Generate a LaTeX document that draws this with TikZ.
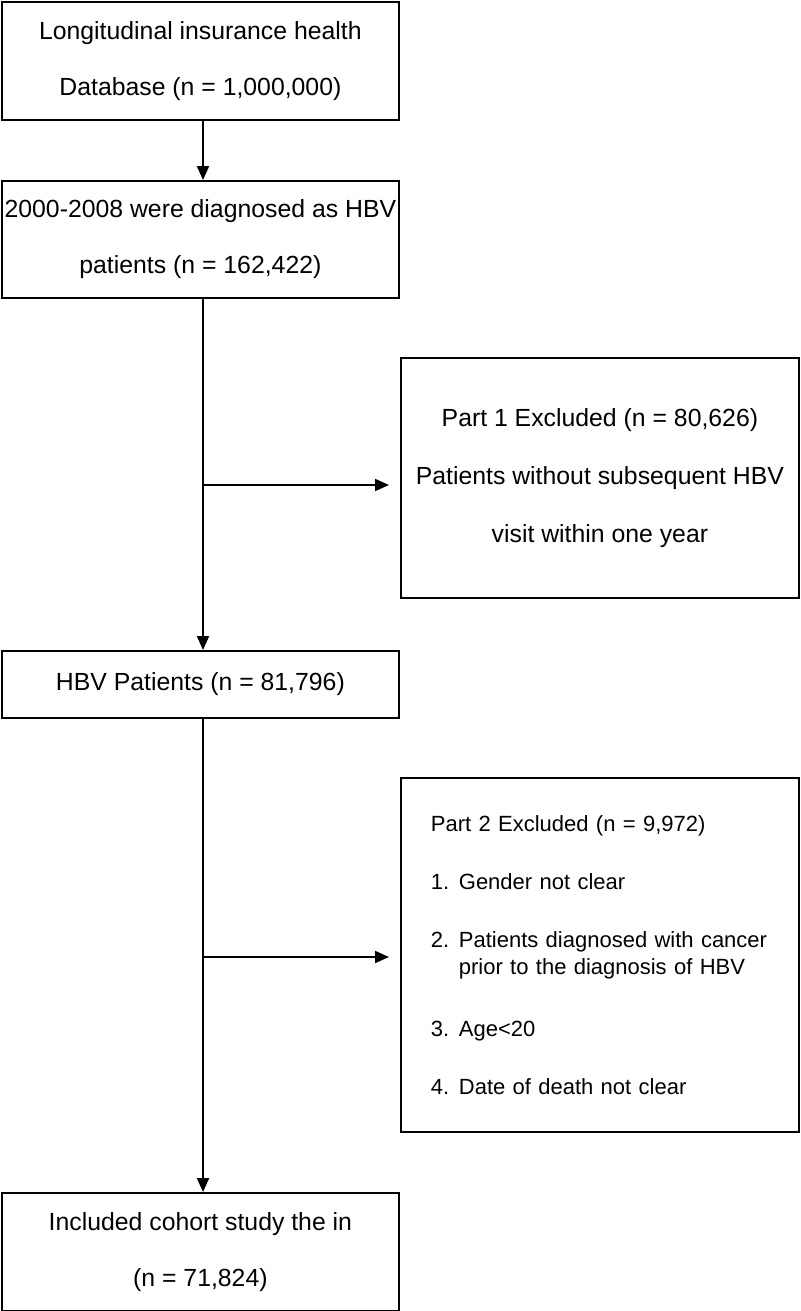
\documentclass[tikz,border=0pt]{standalone}
\usepackage{fontspec}
\setmainfont{Liberation Sans}
\usetikzlibrary{arrows.meta, positioning}
\tikzset{
  box_font/.style = {font=\fontsize{24.8}{30}\selectfont},
  list_font/.style = {font=\fontsize{22}{27}\selectfont},
  box/.style = {box_font, draw, line width=1.8pt, anchor=north west, align=center, inner sep=0},
  side_box/.style = {box, list_font, align=left, text width=338pt},
  flow/.style = {line width=2pt, -{Triangle[length=14pt, width=12pt]}}
}
\begin{document}
\begin{tikzpicture}[x=1pt, y=-1pt]
  \useasboundingbox (0,0) rectangle (800,1311);

  % Main column
  \node[box, minimum width=397pt, minimum height=118pt] at (1,1) (db) {
    Longitudinal insurance health \\[26pt] Database (n = 1,000,000)};
  \node[box, minimum width=397pt, minimum height=117pt] at (1,180) (hbv) {
    2000-2008 were diagnosed as HBV \\[26pt] patients (n = 162,422)};
  \node[box, minimum width=397pt, minimum height=67pt] at (1,650) (pat) {
    HBV Patients (n = 81,796)};
  \node[box, minimum width=397pt, minimum height=118pt] at (1,1192) (coh) {
    Included cohort study the in \\[26pt] (n = 71,824)};

  % Exclusions
  \node[box, minimum width=398pt, minimum height=240pt] at (400,357) (ex1) {
    Part 1 Excluded (n = 80,626) \\[28pt]
    Patients without subsequent HBV \\[28pt]
    visit within one year};
  \node[side_box, minimum width=398pt, minimum height=354pt] at (400,777) (ex2) {
    Part 2 Excluded (n = 9,972) \\[31pt]
    \makebox[28pt][l]{1.}Gender not clear \\[31pt]
    \makebox[28pt][l]{2.}Patients diagnosed with cancer \\
    \hspace*{28pt}prior to the diagnosis of HBV \\[35pt]
    \makebox[28pt][l]{3.}Age<20 \\[31pt]
    \makebox[28pt][l]{4.}Date of death not clear};

  % Branch points
  \coordinate (b_1) at (203,485);
  \coordinate (b_2) at (203,957);

  % Arrows and lines
  \draw[flow] (db.south -| b_1) -- (hbv.north -| b_1);
  \draw[flow] (hbv.south -| b_1) -- (pat.north -| b_1);
  \draw[flow] (pat.south -| b_2) -- (coh.north -| b_2);
  \draw[flow] (b_1) -- ([xshift=-11pt]ex1.west |- b_1);
  \draw[flow] (b_2) -- ([xshift=-11pt]ex2.west |- b_2);
\end{tikzpicture}
\end{document}
